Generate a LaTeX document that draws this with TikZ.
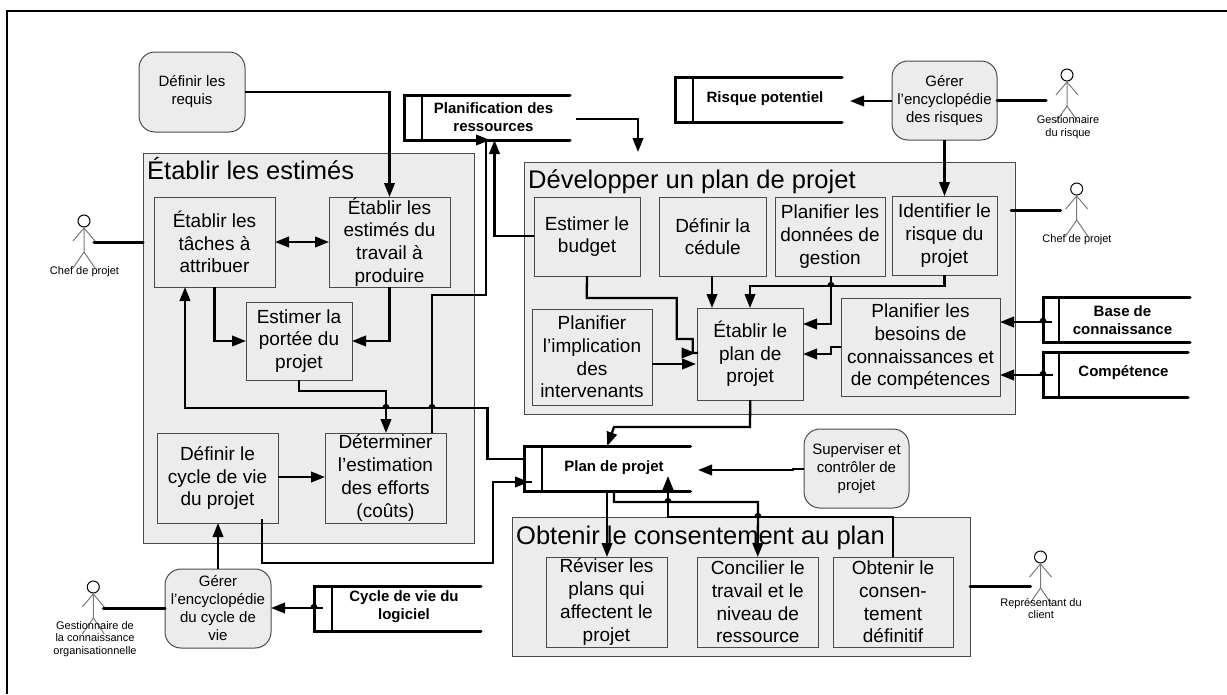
\documentclass[tikz,border=0pt]{standalone}
\usepackage{fontspec}
\setmainfont{Liberation Sans}
\usetikzlibrary{arrows.meta}
\definecolor{boxfill}{HTML}{ECECEC}
\definecolor{boxline}{HTML}{4A4A4A}
\definecolor{actorline}{HTML}{7A7A7A}
\tikzset{
  x=1pt,y=-1pt,
  groupbox/.style={draw=boxline,line width=1pt,fill=boxfill,inner sep=0pt,outer sep=0pt},
  stepbox/.style={draw=boxline,line width=1pt,fill=boxfill,inner sep=0pt,outer sep=0pt,align=center,font=\fontsize{19}{22.7}\selectfont},
  extbox/.style={draw=boxline,line width=1pt,fill=boxfill,rounded corners=16pt,inner sep=0pt,outer sep=0pt,align=center,font=\fontsize{15}{18}\selectfont},
  grouptitle/.style={anchor=base west,inner sep=0pt,font=\fontsize{25.5}{28}\selectfont},
  storeframe/.style={inner sep=0pt,outer sep=0pt},
  storetext/.style={inner sep=0pt,align=center,font=\fontsize{15}{18}\selectfont\bfseries},
  storeline/.style={line width=3pt,line cap=round},
  storeinner/.style={line width=2pt},
  actorlabel/.style={inner sep=0pt,align=center,font=\fontsize{11}{12.8}\selectfont},
  actorhead/.style={circle,draw=black,line width=1pt,fill=white,minimum size=12pt,inner sep=0pt,outer sep=0pt},
  limb/.style={draw=actorline,line width=1pt},
  conn/.style={line width=2.3pt,draw=black},
  arr/.style={conn,-{Triangle[length=14pt,width=10.5pt]}},
  arrboth/.style={conn,{Triangle[length=14pt,width=10.5pt]}-{Triangle[length=14pt,width=10.5pt]}},
  thickconn/.style={line width=3pt,line cap=round},
}
\newcommand\rectnode[7]{%
  \pgfmathsetmacro\cxv{(#3+#5)/2}\pgfmathsetmacro\cyv{(#4+#6)/2}%
  \pgfmathsetmacro\wv{#5-#3}\pgfmathsetmacro\hv{#6-#4}%
  \node[#1,minimum width=\wv pt,minimum height=\hv pt] (#2) at (\cxv,\cyv) {#7};}
% name x1 y1 x2 y2 xinner textx texty text
\newcommand\storenode[9]{%
  \rectnode{storeframe}{#1}{#2}{#3}{#4}{#5}{}%
  \draw[storeline] (#4,#3) -- (#2,#3) -- (#2,#5) -- (#4,#5);
  \draw[storeinner] (#6,#3) -- (#6,#5);
  \node[storetext] (#1-t) at (#7,#8) {#9};}
\newcommand\actornode[1]{%
  \draw[limb] ([yshift=-6pt]#1.center) -- ++(0,25) -- ++(-11,16) ++(11,-16) -- ++(11,16);
  \draw[limb] ([yshift=-7pt]#1.center) ++(-11,13) -- ++(11,-13) -- ++(11,13);
}
\newcommand\hop[2]{\draw[line width=1.8pt] (#1-3,#2) .. controls (#1-1.5,#2-4.5) and (#1+1.5,#2-4.5) .. (#1+3,#2);}
\begin{document}
\begin{tikzpicture}
\useasboundingbox (0,0) rectangle (1227,694);
\fill[white] (0,0) rectangle (1227,694);
% outer frame, cut by the picture's edges
\draw[line width=2.5pt] (7,694) -- (7,11) -- (1227,11);

% groups
\rectnode{groupbox}{est}{143}{153}{474}{543}{}
\rectnode{groupbox}{dev}{524}{162}{1015}{414}{}
\rectnode{groupbox}{obt}{512}{517}{970}{656}{}
\node[grouptitle] (estT) at (147,179) {Établir les estimés};
\node[grouptitle] (devT) at (528,188) {Développer un plan de projet};
\node[grouptitle] (obtT) at (516,544) {Obtenir le consentement au plan};

% external processes
\rectnode{extbox}{req}{139}{52}{245}{132}{Définir les\\requis}
\rectnode{extbox}{grisk}{892}{61}{997}{140}{Gérer\\l’encyclopédie\\des risques}
\rectnode{extbox}{gcyc}{165}{569}{271}{648}{Gérer\\l’encyclopédie\\du cycle de\\vie}
\rectnode{extbox}{sup}{804}{429}{909}{508}{Superviser et\\contrôler de\\projet}

% steps
\rectnode{stepbox}{tach}{154}{197}{275}{287}{Établir les\\tâches à\\attribuer}
\rectnode{stepbox}{trav}{329}{197}{450}{287}{Établir les\\estimés du\\travail à\\produire}
\rectnode{stepbox}{port}{246}{302}{352}{380}{Estimer la\\portée du\\projet}
\rectnode{stepbox}{cyc}{157}{433}{278}{523}{Définir le\\cycle de vie\\du projet}
\rectnode{stepbox}{det}{325}{433}{446}{523}{Déterminer\\l’estimation\\des efforts\\(coûts)}
\rectnode{stepbox}{bud}{534}{197}{640}{276}{Estimer le\\budget}
\rectnode{stepbox}{ced}{659.5}{197}{766}{276}{Définir la\\cédule}
\rectnode{stepbox}{don}{775}{197}{885}{276}{Planifier les\\données de\\gestion}
\rectnode{stepbox}{ide}{892}{196}{997}{275}{Identifier le\\risque du\\projet}
\rectnode{stepbox}{imp}{532}{309}{652}{405}{Planifier\\l’implication\\des\\intervenants}
\rectnode{stepbox}{epl}{697.5}{308}{803}{400}{Établir le\\plan de\\projet}
\rectnode{stepbox}{bes}{841}{298}{1000}{396}{Planifier les\\besoins de\\connaissances et\\de compétences}
\rectnode{stepbox}{rev}{546}{557}{667}{647}{Réviser les\\plans qui\\affectent le\\projet}
\rectnode{stepbox}{con}{697.5}{557}{818}{647}{Concilier le\\travail et le\\niveau de\\ressource}
\rectnode{stepbox}{odef}{833}{557}{953}{647}{Obtenir le\\consen-\\tement\\définitif}

% stores
\storenode{sres}{404}{95}{570}{140}{422}{493.5}{117}{Planification des\\ressources}
\storenode{srisk}{675}{77}{842}{122}{693}{765}{99}{Risque potentiel}
\storenode{sbase}{1043}{297}{1190}{342}{1059}{1122.5}{320}{Base de\\connaissance}
\storenode{scomp}{1043}{352}{1188}{397}{1059}{1123.5}{373}{Compétence}
\storenode{plan}{524}{446}{690.5}{491}{542}{614}{468}{Plan de projet}
\storenode{scyc}{314}{586}{481}{631}{332}{404}{607}{Cycle de vie du\\logiciel}

% actors
\node[actorhead] (aCL) at (84,221) {};
\node[actorhead] (aGR) at (1067,75) {};
\node[actorhead] (aCR) at (1076.7,189) {};
\node[actorhead] (aRE) at (1040.5,557) {};
\node[actorhead] (aGC) at (93.3,587) {};
\actornode{aCL}\actornode{aGR}\actornode{aCR}\actornode{aRE}\actornode{aGC}
\node[actorlabel] (lCL) at (84.5,272) {Chef de projet};
\node[actorlabel] (lGR) at (1068,127) {Gestionnaire\\du risque};
\node[actorlabel] (lCR) at (1077,240) {Chef de projet};
\node[actorlabel] (lRE) at (1041,608.5) {Représentant du\\client};
\node[actorlabel] (lGC) at (95,639) {Gestionnaire de\\la connaissance\\organisationnelle};

% actor links
\draw[thickconn] ([xshift=10pt,yshift=-21pt]aCL.center) -- (est.west |- 0,242);
\draw[thickconn] (grisk.east |- 0,100) -- ([xshift=-21pt,yshift=-25pt]aGR.center);
\draw[thickconn] (1011,210) -- ([xshift=-16pt,yshift=-21pt]aCR.center);
\draw[thickconn] (obt.east |- 0,586) -- ([xshift=-10pt,yshift=-29pt]aRE.center);
\draw[thickconn] ([xshift=10pt,yshift=-21pt]aGC.center) -- (gcyc.west |- 0,608);

% Établir les estimés
\draw[arr] (req.east |- 0,92) -| (trav.north);
\draw[arrboth] (tach.east) -- (trav.west);
\draw[arr] (tach.south) |- (port.west |- 0,341);
\draw[arr] (trav.south) |- (port.east |- 0,341);
\draw[arr] (port.south) -- (299,391) -- (386,391) -- (386,0 |- det.north);
\draw[arr] (plan.west |- 0,459) -- (487.5,459) -- (487.5,408) -- (185,408) -- (185,0 |- tach.south);
\draw[conn] (432,0 |- det.north) -- (432,295) -- (486,295) -- (486,0 |- sres.south);
\draw[arr] (477,140) -- (490,140);
\draw[arr] (bud.west |- 0,236) -- (494.5,236) -- (494.5,0 |- sres.south);
\draw[arr] (cyc.east |- 0,477) -- (det.west |- 0,477);
\draw[conn] (262,519) -- (262,563) -- (493,563) -- (493,482) -- (532,482);
\draw[arr] (515,482) -- (529,482);
\draw[arr] (gcyc.north) -- (218,0 |- cyc.south);
\draw[arr] (323,608) -- (gcyc.east |- 0,608);
\hop{386}{408}\hop{432}{408}\hop{314}{608}

% Développer un plan de projet
\draw[arr] (576,119) -- (638,119) -- (638,152);
\draw[arr] (grisk.west |- 0,101) -- (850,101);
\draw[arr] (ide.north |- grisk.south) -- (ide.north);
\draw[conn] (bud.south) -- (586.7,298) -- (676.7,298) -- (676.7,339) -- (692.7,339) -- (692.7,353) -- (698,353);
\draw[arr] (682,353) -- (695.5,353);
\draw[arr] (imp.east |- 0,364) -- (696,364);
\draw[arr] (712,0 |- ced.south) -- (712,0 |- epl.north);
\draw[arr] (831,0 |- don.south) -- (831,324) -- (epl.east |- 0,324);
\draw[arr] (ide.south) -- (944.5,286) -- (750,286) -- (750,0 |- epl.north);
\draw[arr] (bes.west |- 0,347) -- (831,347) -- (831,354) -- (epl.east |- 0,354);
\draw[arr] (1052,322) -- (bes.east |- 0,322);
\draw[arr] (1052.5,375) -- (bes.east |- 0,375);
\hop{831}{286}\hop{1043}{322}\hop{1043}{375}

% Plan de projet
\draw[arr] (epl.south) -- (750,427) -- (614,427) -- (plan.north);
\draw[arr] (sup.west |- 0,469) -- (793,469) -- (793,470) -- (698,470);

% Obtenir le consentement
\draw[arr] (607,0 |- plan.south) -- (607,0 |- rev.north);
\draw[arr] (614,0 |- plan.south) -- (614,502) -- (758,502) -- (con.north);
\draw[arr] (odef.north) -- (893,517) -- (668,517) -- (668,476);
\hop{668}{502}\hop{758}{517}
\end{tikzpicture}
\end{document}
